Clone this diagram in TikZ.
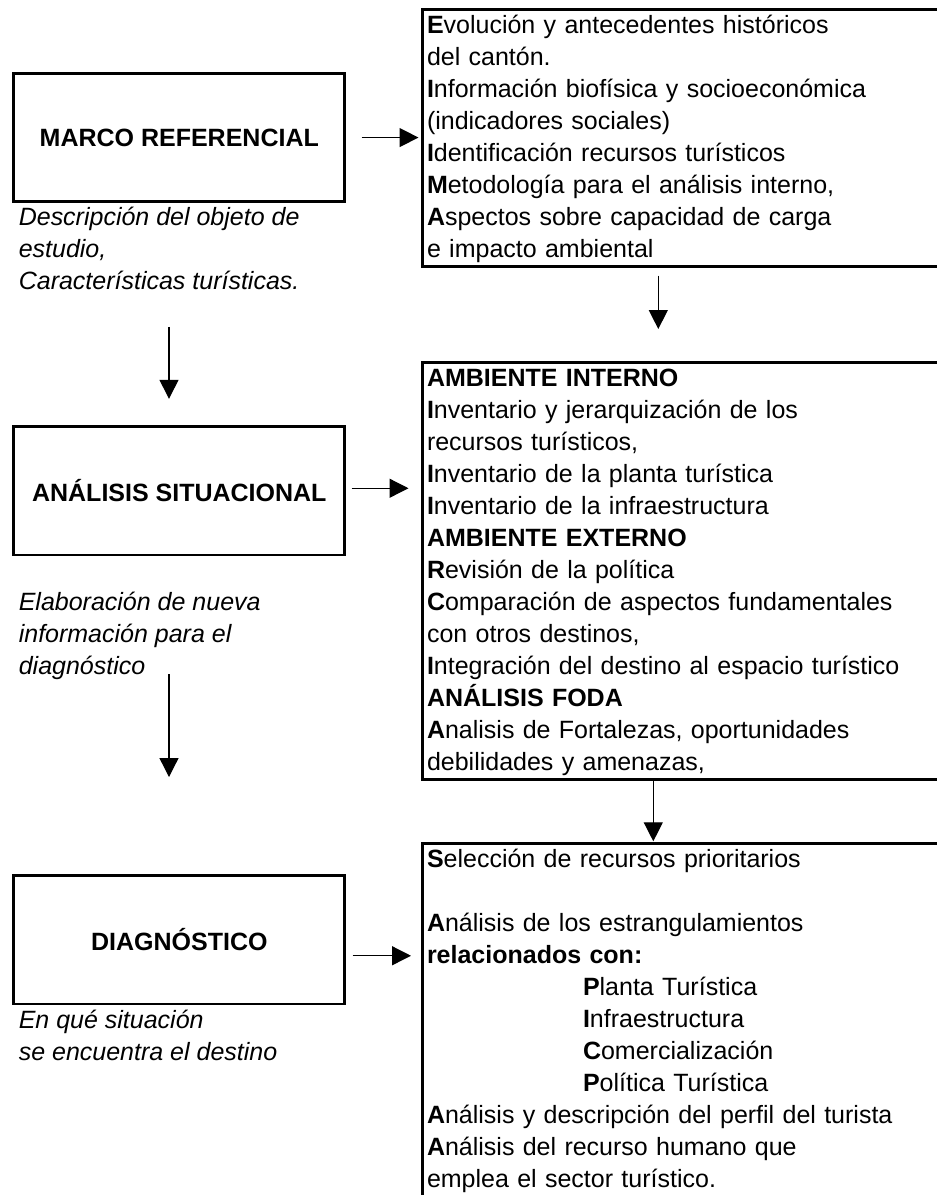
\documentclass[tikz,border=0pt]{standalone}
\usepackage{fontspec}
\setmainfont{Liberation Sans}
\usepackage{tikz}
\usetikzlibrary{arrows.meta}

\newcommand{\sline}{\rule[-8pt]{0pt}{32pt}}

\begin{document}
\begin{tikzpicture}[x=1pt,y=-1pt,
    every node/.style={font=\fontsize{25}{32}\selectfont, outer sep=0pt},
    lbox/.style={draw, line width=2.8pt, minimum width=331pt, minimum height=128.5pt,
      anchor=north west, font=\fontsize{25}{32}\selectfont\bfseries},
    rbox/.style={draw, line width=3pt, anchor=north west, align=left, text width=560pt,
      inner xsep=4.5pt, inner ysep=0.5pt},
    captext/.style={anchor=north west, align=left, inner sep=0pt,
      font=\fontsize{25}{32}\selectfont\itshape},
    arr/.style={line width=1.3pt, -{Triangle[length=19pt,width=19pt]}}]
  \path[use as bounding box, clip] (0,0) rectangle (937,1195);
  \fill[white] (0,0) rectangle (937,1195);

  \node[lbox] (mr)  at (13.8,73.3)  {MARCO REFERENCIAL};
  \node[lbox] (ais) at (13.8,426.5) {ANÁLISIS SITUACIONAL};
  \node[lbox] (dg)  at (13.8,875.5) {DIAGNÓSTICO};

  \node[captext] (mrcap)  at ([xshift=5pt]mr.south west)
    {\sline Descripción del objeto de\\estudio,\\Características turísticas.};
  \node[captext] (aiscap) at ([xshift=5pt,yshift=-31.5pt]ais.south west)
    {\sline Elaboración de nueva\\información para el\\diagnóstico};
  \node[captext] (dgcap)  at ([xshift=5pt]dg.south west)
    {\sline En qué situación\\se encuentra el destino};

  \node[rbox] (ev) at (422.5,9.3) {\sline\textbf{E}volución y antecedentes históricos\\
    del cantón.\\
    \textbf{I}nformación biofísica y socioeconómica\\
    (indicadores sociales)\\
    \textbf{I}dentificación recursos turísticos\\
    \textbf{M}etodología para el análisis interno,\\
    \textbf{A}spectos sobre capacidad de carga\\
    e impacto ambiental\sline};
  \node[rbox] (amb) at (422.5,362) {\sline\textbf{AMBIENTE INTERNO}\\
    \textbf{I}nventario y jerarquización de los\\
    recursos turísticos,\\
    \textbf{I}nventario de la planta turística\\
    \textbf{I}nventario de la infraestructura\\
    \textbf{AMBIENTE EXTERNO}\\
    \textbf{R}evisión de la política\\
    \textbf{C}omparación de aspectos fundamentales\\
    con otros destinos,\\
    \textbf{I}ntegración del destino al espacio turístico\\
    \textbf{ANÁLISIS FODA}\\
    \textbf{A}nalisis de Fortalezas, oportunidades\\
    debilidades y amenazas,\sline};
  \node[rbox] (sel) at (422.5,843.3) {\sline\textbf{S}elección de recursos prioritarios\\
    \mbox{}\\
    \textbf{A}nálisis de los estrangulamientos\\
    \textbf{relacionados con:}\\
    \hspace*{156pt}\textbf{P}lanta Turística\\
    \hspace*{156pt}\textbf{I}nfraestructura\\
    \hspace*{156pt}\textbf{C}omercialización\\
    \hspace*{156pt}\textbf{P}olítica Turística\\
    \textbf{A}nálisis y descripción del perfil del turista\\
    \textbf{A}nálisis del recurso humano que\\
    emplea el sector turístico.\rule[-60pt]{0pt}{84pt}};

  \coordinate (lcol) at (169,0);
  \coordinate (rcol1) at (658.3,0);
  \coordinate (rcol2) at (653.3,0);

  \draw[arr, shorten <=16.7pt, shorten >=4pt] (mr.east) -- (mr.east -| ev.west);
  \draw[arr, shorten <=6.7pt, shorten >=14pt] ([yshift=2.5pt]ais.east) -- ([yshift=2.5pt]ais.east -| amb.west);
  \draw[arr, shorten <=7.7pt, shorten >=11.5pt] ([yshift=-16pt]dg.east) -- ([yshift=-16pt]dg.east -| sel.west);

  \draw[arr, shorten <=125pt, shorten >=27.7pt] (mr.south -| lcol) -- (ais.north -| lcol);
  \draw[arr, shorten <=119pt, shorten >=98.5pt] (ais.south -| lcol) -- (dg.north -| lcol);
  \draw[arr, shorten <=9.4pt, shorten >=33pt] (ev.south -| rcol1) -- (amb.north -| rcol1);
  \draw[arr, shorten <=1.5pt, shorten >=2pt] (amb.south -| rcol2) -- (sel.north -| rcol2);
\end{tikzpicture}
\end{document}
